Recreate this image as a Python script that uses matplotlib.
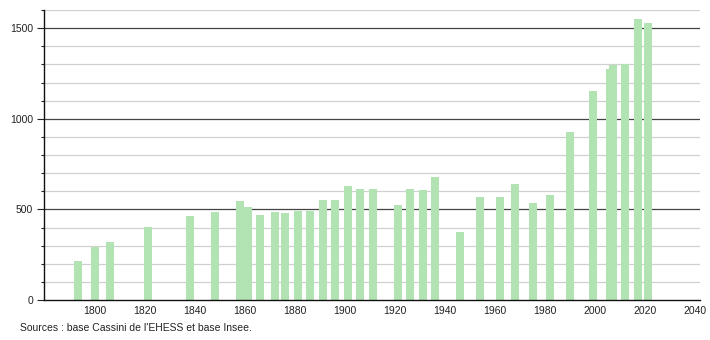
import matplotlib
matplotlib.use("Agg")
import matplotlib.pyplot as plt
from matplotlib.ticker import MultipleLocator

years = [1793, 1800, 1806, 1821, 1838, 1848, 1858, 1861, 1866, 1872, 1876, 1881,
         1886, 1891, 1896, 1901, 1906, 1911, 1921, 1926, 1931, 1936, 1946, 1954,
         1962, 1968, 1975, 1982, 1990, 1999, 2006, 2007, 2012, 2017, 2021]
population = [215, 294, 322, 405, 465, 486, 546, 511, 469, 486, 478, 493,
              493, 552, 552, 629, 611, 611, 524, 611, 607, 680, 375, 568,
              567, 640, 533, 578, 928, 1155, 1273, 1295, 1302, 1549, 1530]
x_ticks = [1800, 1820, 1840, 1860, 1880, 1900, 1920, 1940, 1960, 1980, 2000, 2020, 2040]
y_major = [0, 500, 1000, 1500]
source_text = "Sources : base Cassini de l'EHESS et base Insee."

plt.rcParams['font.family'] = ['Liberation Sans', 'DejaVu Sans']

fig = plt.figure(figsize=(7.1, 3.4), dpi=100)
ax = fig.add_axes([44/710, 40/340, 656/710, 290/340])

ax.set_xlim(1779.6, 2042.0)
ax.set_ylim(0, 1600)

# grid lines
for v in range(100, 1700, 100):
    if v % 500 == 0:
        ax.axhline(v, color='#444444', lw=0.9, zorder=1)
    else:
        ax.axhline(v, color='#d0d0d0', lw=0.9, zorder=1)

ax.bar(years, population, width=3.2, color='#b2e3b2', zorder=2, linewidth=0)

ax.set_xticks(x_ticks)
ax.set_xticklabels([str(t) for t in x_ticks])
ax.set_yticks(y_major)
ax.set_yticklabels([str(t) for t in y_major])
ax.yaxis.set_minor_locator(MultipleLocator(100))

ax.tick_params(axis='x', length=0, pad=4, labelsize=7.5, colors='#222222')
ax.tick_params(axis='y', which='major', length=5, width=0.8, pad=3, labelsize=7.5, colors='#222222')
ax.tick_params(axis='y', which='minor', length=2.5, width=0.8, colors='#222222')

for s in ['top', 'right']:
    ax.spines[s].set_visible(False)
ax.spines['left'].set_color('#111111')
ax.spines['bottom'].set_color('#111111')
ax.spines['left'].set_linewidth(1.0)
ax.spines['bottom'].set_linewidth(1.0)

fig.text(20/710, 1 - 328/340, source_text, fontsize=7.5, va='center', ha='left', color='#222222')

fig.savefig("out.png", dpi=100)
